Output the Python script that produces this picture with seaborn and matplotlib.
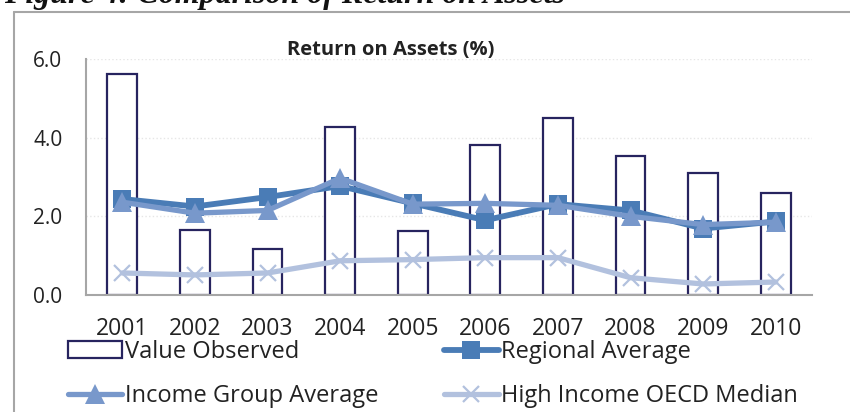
import numpy as np
import matplotlib
matplotlib.use("Agg")
import matplotlib.pyplot as plt
import seaborn as sns
from matplotlib.lines import Line2D
from matplotlib.patches import Patch

# values
years = ["2001", "2002", "2003", "2004", "2005", "2006", "2007", "2008", "2009", "2010"]
value_observed = [5.62, 1.64, 1.18, 4.26, 1.62, 3.82, 4.51, 3.54, 3.10, 2.59]
regional_avg = [2.44, 2.25, 2.49, 2.77, 2.33, 1.90, 2.31, 2.15, 1.69, 1.87]
income_group_avg = [2.36, 2.08, 2.15, 2.97, 2.31, 2.33, 2.28, 2.00, 1.79, 1.85]
oecd_median = [0.56, 0.51, 0.56, 0.87, 0.90, 0.95, 0.95, 0.44, 0.28, 0.33]
y_ticks = [0, 2, 4, 6]
y_labels = ["0.0", "2.0", "4.0", "6.0"]

sns.set_style("white")
plt.rcParams["font.family"] = ["Open Sans", "DejaVu Sans"]

navy = "#27245f"
c_regional = "#4a7cb6"
c_income = "#7898cb"
c_oecd = "#b2c1de"
grey = "#a6a6a6"

fig = plt.figure(figsize=(8.5, 4.12), dpi=100)
ax = fig.add_axes([86 / 850, 1 - 295 / 412, (812 - 86) / 850, (295 - 59) / 412])

# bars
sns.barplot(x=years, y=value_observed, color="white", edgecolor=navy,
            linewidth=1.6, width=0.41, ax=ax, zorder=2)

# lines
sns.pointplot(x=years, y=regional_avg, color=c_regional, markers="s",
              errorbar=None, ax=ax, linewidth=4.2, markersize=13,
              markeredgewidth=0, zorder=3)
sns.pointplot(x=years, y=income_group_avg, color=c_income, markers="^",
              errorbar=None, ax=ax, linewidth=3.8, markersize=14,
              markeredgewidth=0, zorder=4)
sns.pointplot(x=years, y=oecd_median, color=c_oecd, markers="x",
              errorbar=None, ax=ax, linewidth=3.8, markersize=12,
              markeredgewidth=1.6, zorder=4)

ax.set_xlim(-0.5, 9.5)
ax.set_ylim(0, 6)
ax.set_xlabel("")
ax.set_ylabel("")

ax.set_yticks(y_ticks)
ax.set_yticklabels(y_labels, fontsize=15, color="#222222")
ax.grid(axis="y", color="#e6e6e6", linestyle=":", linewidth=1, zorder=0)
ax.set_axisbelow(True)

ax.set_xticks(range(len(years)))
ax.set_xticklabels(years, fontsize=16.5, color="#222222")
ax.set_xticks(np.arange(-0.5, len(years), 1), minor=True)
ax.tick_params(axis="x", which="major", length=0, pad=16)
ax.tick_params(axis="x", which="minor", length=7, width=1.3, color=grey,
               direction="out")
ax.tick_params(axis="y", length=7, width=1.3, color=grey, direction="out", pad=10)

for side in ["top", "right"]:
    ax.spines[side].set_visible(False)
for side in ["left", "bottom"]:
    ax.spines[side].set_color(grey)
    ax.spines[side].set_linewidth(1.5)

ax.set_title("Return on Assets (%)", fontsize=14.5, fontweight="bold",
             color="#222222", pad=3, x=0.42)

# legend
handles = [
    Patch(facecolor="white", edgecolor=navy, linewidth=1.6, label="Value Observed"),
    Line2D([], [], color=c_income, marker="^", lw=3.8, ms=14, mew=0,
           label="Income Group Average"),
    Line2D([], [], color=c_regional, marker="s", lw=4.2, ms=13, mew=0,
           label="Regional Average"),
    Line2D([], [], color=c_oecd, marker="x", lw=3.8, ms=12, mew=1.6,
           label="High Income OECD Median"),
]
fig.legend(handles=handles, ncol=2, loc="upper left",
           bbox_to_anchor=(68 / 850, 1 - 340 / 412), frameon=False,
           fontsize=17, handlelength=2.3, handletextpad=0.1,
           labelspacing=0.85, columnspacing=2.8, borderpad=0,
           borderaxespad=0, labelcolor="#222222")

# outer chart frame and the clipped figure caption above it
fig.add_artist(Line2D([14 / 850, 14 / 850], [0, 1 - 12 / 412], color=grey,
                      lw=1.5, transform=fig.transFigure))
fig.add_artist(Line2D([14 / 850, 1], [1 - 12 / 412, 1 - 12 / 412], color=grey,
                      lw=1.5, transform=fig.transFigure))
fig.text(4 / 850, 1 - 2.5 / 412, "Figure 4: Comparison of Return on Assets",
         family="Liberation Serif", style="italic", fontweight="bold",
         fontsize=23, va="baseline", ha="left", color="#111111")

fig.savefig("out.png", dpi=100)
